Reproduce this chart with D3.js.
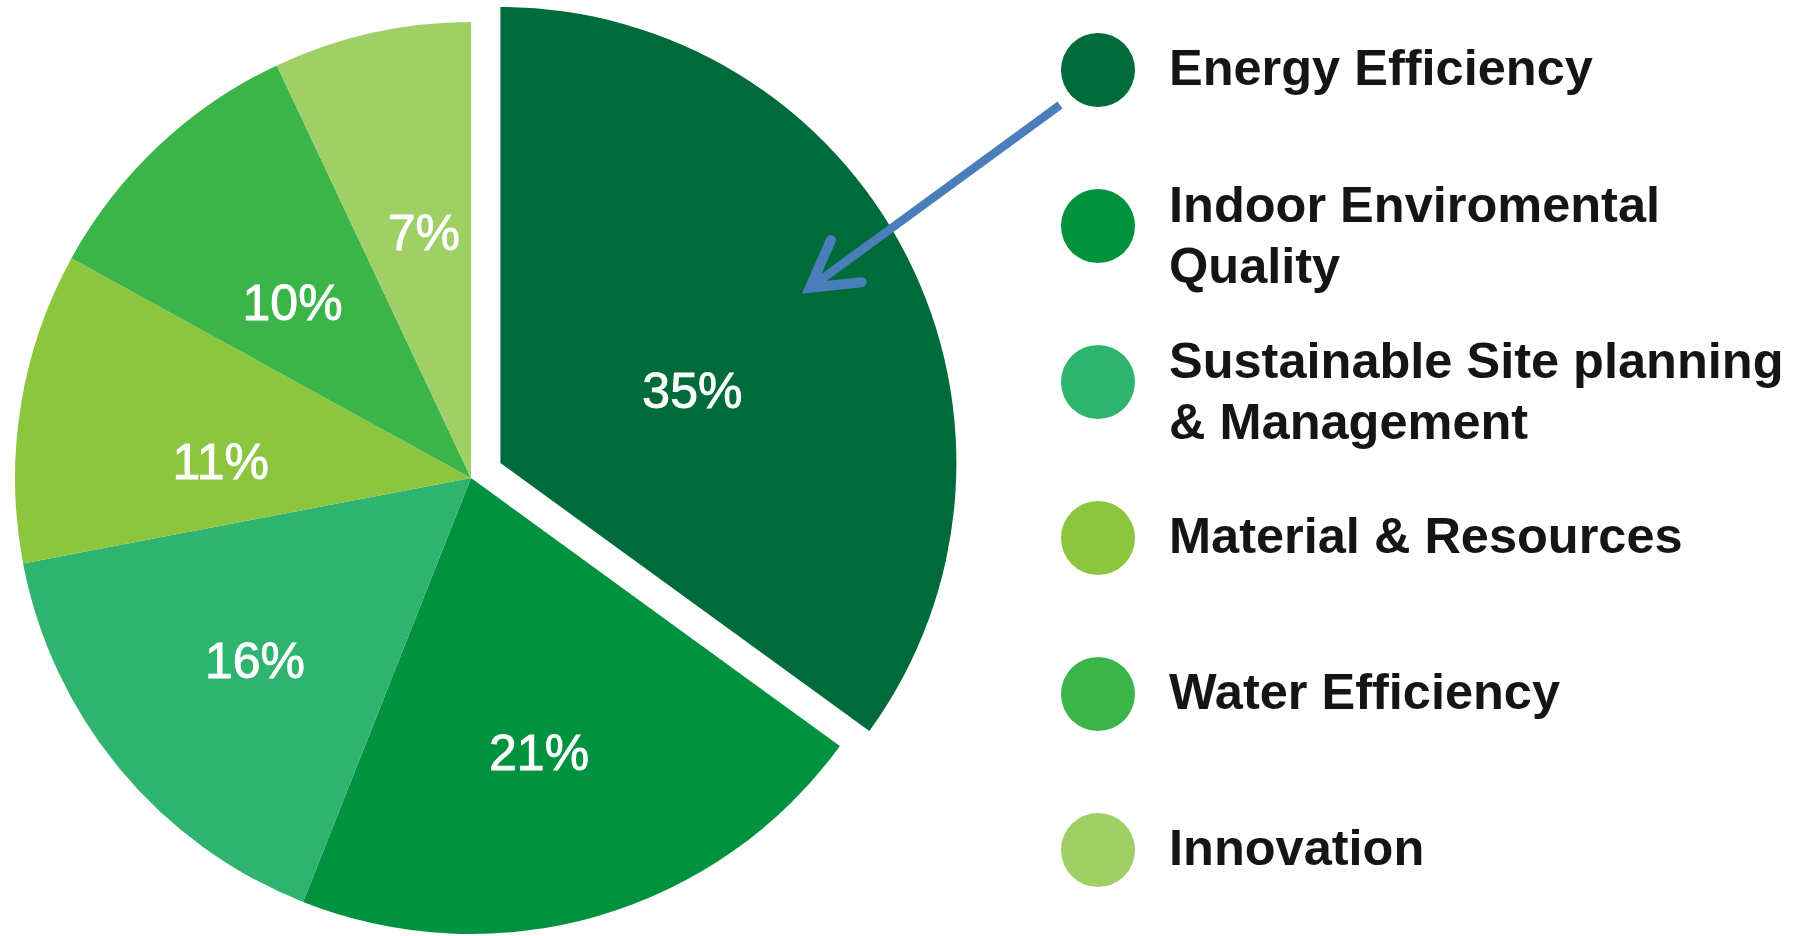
<!DOCTYPE html>
<html>
<head>
<meta charset="utf-8">
<script src="https://cdn.jsdelivr.net/npm/d3@7"></script>
<style>
  html, body { margin: 0; padding: 0; background: #ffffff; }
  svg { display: block; }
</style>
</head>
<body>
<svg id="chart" width="1797" height="936"></svg>
<script>
// Share of credit points by category (percent)
const categories = [
  "Energy Efficiency",
  "Indoor Enviromental Quality",
  "Sustainable Site planning & Management",
  "Material & Resources",
  "Water Efficiency",
  "Innovation"
];
const legendLines = [
  ["Energy Efficiency"],
  ["Indoor Enviromental", "Quality"],
  ["Sustainable Site planning", "& Management"],
  ["Material & Resources"],
  ["Water Efficiency"],
  ["Innovation"]
];
const shares = [35, 21, 16, 11, 10, 7];
const shareLabels = ["35%", "21%", "16%", "11%", "10%", "7%"];
const colors = ["#006b3a", "#00923f", "#2fb470", "#8cc63f", "#3bb54a", "#a0cf66"];

// Layout
const cx = 471, cy = 478, radius = 456;
const explodeIndex = 0, explodeDist = 33;
// where each percentage sits: fraction across the slice's sweep, and fraction of the radius
const labelSweepFrac = [0.55, 0.53, 0.49, 0.37, 0.44, 0.57];
const labelRadiusFrac = [0.45, 0.62, 0.62, 0.55, 0.55, 0.55];

const svg = d3.select("#chart");

const pie = d3.pie().sort(null).value(d => d)(shares);
const arc = d3.arc().innerRadius(0).outerRadius(radius);

function offsetFor(d, i) {
  if (i !== explodeIndex) return [0, 0];
  const mid = (d.startAngle + d.endAngle) / 2;
  return [Math.sin(mid) * explodeDist, -Math.cos(mid) * explodeDist];
}

const slices = svg.append("g")
  .attr("transform", `translate(${cx},${cy})`)
  .selectAll("g.slice")
  .data(pie)
  .join("g")
  .attr("class", "slice")
  .attr("transform", (d, i) => {
    const [ox, oy] = offsetFor(d, i);
    return `translate(${ox},${oy})`;
  });

slices.append("path")
  .attr("d", arc)
  .attr("fill", (d, i) => colors[i]);

slices.append("text")
  .attr("transform", (d, i) => {
    const a = d.startAngle + (d.endAngle - d.startAngle) * labelSweepFrac[i];
    const r = radius * labelRadiusFrac[i];
    return `translate(${Math.sin(a) * r},${-Math.cos(a) * r})`;
  })
  .attr("text-anchor", "middle")
  .attr("dy", "0.36em")
  .attr("fill", "#ffffff")
  .attr("stroke", "#ffffff")
  .attr("stroke-width", 0.9)
  .style("font-family", "'Liberation Sans', Arial, Helvetica, sans-serif")
  .style("font-size", "50px")
  .text((d, i) => shareLabels[i]);

// Legend
const legendX = 1098, legendTop = 70, legendStep = 156, dotR = 37;
const textX = 1169, lineGap = 61;

const legend = svg.append("g")
  .selectAll("g.item")
  .data(categories)
  .join("g")
  .attr("class", "item")
  .attr("transform", (d, i) => `translate(0,${legendTop + i * legendStep})`);

legend.append("circle")
  .attr("cx", legendX)
  .attr("cy", 0)
  .attr("r", dotR)
  .attr("fill", (d, i) => colors[i]);

legend.append("text")
  .attr("x", textX)
  .attr("y", (d, i) => 15 - (legendLines[i].length - 1) * 19)
  .attr("fill", "#151515")
  .style("font-family", "'Liberation Sans', Arial, Helvetica, sans-serif")
  .style("font-weight", "bold")
  .style("font-size", "50.5px")
  .selectAll("tspan")
  .data((d, i) => legendLines[i])
  .join("tspan")
  .attr("x", textX)
  .attr("dy", (t, j) => j === 0 ? 0 : lineGap)
  .text(t => t);

// Pointer from the first legend entry into its slice
const target = pie[explodeIndex];
const [eox, eoy] = offsetFor(target, explodeIndex);
const tipAngle = target.startAngle + (target.endAngle - target.startAngle) * 0.48;
const tipR = radius * 0.78;
const tip = [cx + eox + Math.sin(tipAngle) * tipR, cy + eoy - Math.cos(tipAngle) * tipR];
const start = [legendX - 38, legendTop + 35];

const ang = Math.atan2(start[1] - tip[1], start[0] - tip[0]);
const headLen = 52, headSpread = Math.PI / 6;
const armA = [tip[0] + Math.cos(ang + headSpread) * headLen, tip[1] + Math.sin(ang + headSpread) * headLen];
const armB = [tip[0] + Math.cos(ang - headSpread) * headLen, tip[1] + Math.sin(ang - headSpread) * headLen];

const pointer = svg.append("g").attr("fill", "none").attr("stroke", "#4a7ebb");
pointer.append("line")
  .attr("x1", start[0]).attr("y1", start[1])
  .attr("x2", tip[0]).attr("y2", tip[1])
  .attr("stroke-width", 8.5);
pointer.append("path")
  .attr("d", d3.line()([armA, tip, armB]))
  .attr("stroke-width", 10)
  .attr("stroke-linecap", "round")
  .attr("stroke-linejoin", "miter");
</script>
</body>
</html>
